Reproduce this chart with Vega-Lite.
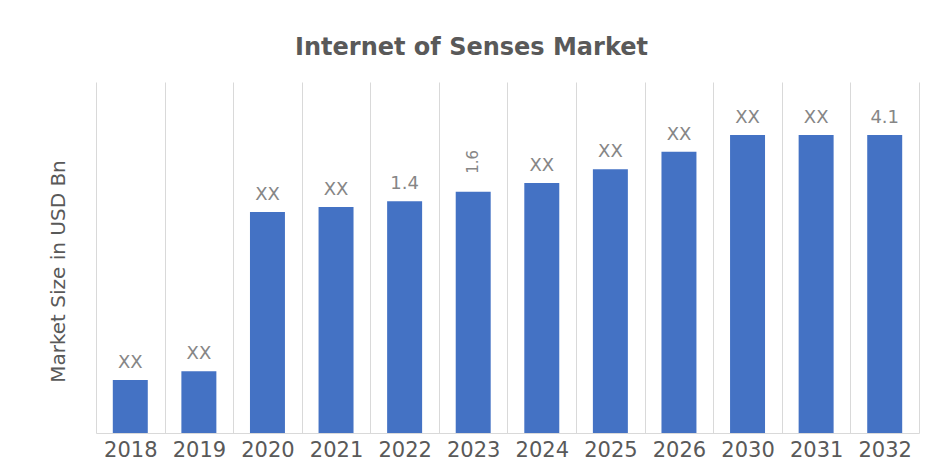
{
  "$schema": "https://vega.github.io/schema/vega-lite/v6.json",
  "width": 823,
  "height": 351,
  "autosize": {"type": "none"},
  "padding": {"left": 96, "top": 82, "right": 7, "bottom": 42},
  "background": "white",
  "title": {
    "text": "Internet of Senses Market",
    "font": "DejaVu Sans",
    "fontSize": 24,
    "fontWeight": "bold",
    "color": "#595959",
    "anchor": "middle",
    "dx": -36,
    "offset": 22
  },
  "data": {
    "values": [
      {"year": "2018", "value": 0.73, "label": "XX"},
      {"year": "2019", "value": 0.85, "label": "XX"},
      {"year": "2020", "value": 3.04, "label": "XX"},
      {"year": "2021", "value": 3.11, "label": "XX"},
      {"year": "2022", "value": 3.19, "label": "1.4"},
      {"year": "2023", "value": 3.32, "label": "1.6"},
      {"year": "2024", "value": 3.44, "label": "XX"},
      {"year": "2025", "value": 3.63, "label": "XX"},
      {"year": "2026", "value": 3.87, "label": "XX"},
      {"year": "2030", "value": 4.1, "label": "XX"},
      {"year": "2031", "value": 4.1, "label": "XX"},
      {"year": "2032", "value": 4.1, "label": "4.1"}
    ]
  },
  "encoding": {
    "x": {
      "field": "year",
      "type": "ordinal",
      "sort": null,
      "scale": {"paddingInner": 0, "paddingOuter": 0},
      "axis": {
        "title": null,
        "labelAngle": 0,
        "labelFont": "DejaVu Sans",
        "labelFontSize": 21,
        "labelColor": "#595959",
        "labelPadding": 6,
        "ticks": false,
        "tickBand": "extent",
        "grid": true,
        "gridColor": "#d9d9d9",
        "gridWidth": 1,
        "domainColor": "#d9d9d9",
        "domainWidth": 1
      }
    },
    "y": {
      "field": "value",
      "type": "quantitative",
      "scale": {"domain": [0, 4.83], "nice": false},
      "axis": {
        "title": "Market Size in USD Bn",
        "titleFont": "DejaVu Sans",
        "titleFontSize": 20,
        "titleFontWeight": "normal",
        "titleColor": "#595959",
        "titlePadding": 28,
        "titleY": 189,
        "labels": false,
        "ticks": false,
        "domain": false,
        "grid": false
      }
    }
  },
  "layer": [
    {
      "mark": {"type": "bar", "width": {"band": 0.51}, "color": "#4472C4"}
    },
    {
      "transform": [{"filter": "datum.year != '2023'"}],
      "mark": {
        "type": "text",
        "baseline": "bottom",
        "dy": -8,
        "font": "DejaVu Sans",
        "fontSize": 18,
        "color": "#868686"
      },
      "encoding": {"text": {"field": "label"}}
    },
    {
      "transform": [{"filter": "datum.year == '2023'"}],
      "mark": {
        "type": "text",
        "angle": 270,
        "align": "left",
        "baseline": "middle",
        "dx": 18,
        "font": "DejaVu Sans",
        "fontSize": 15,
        "color": "#868686"
      },
      "encoding": {"text": {"field": "label"}}
    }
  ],
  "config": {"view": {"stroke": null}}
}
